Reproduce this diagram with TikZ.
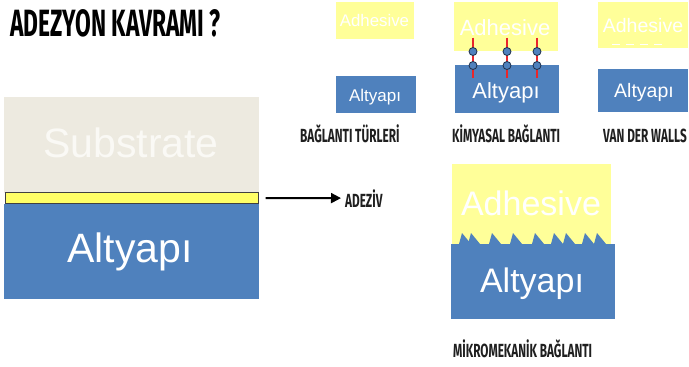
\documentclass[tikz,border=0pt]{standalone}
\usepackage{fontspec}
\setmainfont{Liberation Sans}
\newfontfamily\condfont[FakeStretch=0.62]{Fira Sans}
\newfontfamily\titlefont[FakeStretch=0.6]{Fira Sans}
\usetikzlibrary{arrows.meta}
\definecolor{subst}{HTML}{EDEAE0}
\definecolor{substtxt}{HTML}{FAF9F5}
\definecolor{altblue}{HTML}{4F81BD}
\definecolor{adhyel}{HTML}{FFFF99}
\definecolor{stripyel}{HTML}{FFFF66}
\definecolor{bondred}{HTML}{E8262B}
\definecolor{dotline}{HTML}{1F2F4A}
\tikzset{
  box/.style={draw=none, inner sep=0pt, outer sep=0pt},
  subbox/.style={box, fill=subst},
  bluebox/.style={box, fill=altblue},
  yelbox/.style={box, fill=adhyel},
  wtext/.style={text=white, inner sep=0pt, anchor=base},
  lbl/.style={inner sep=0pt, anchor=base west, font=\condfont\bfseries\fontsize{19}{19}\selectfont, text=black!88},
  bond/.style={draw=bondred, line width=1.2pt},
  atom/.style={circle, fill=altblue, draw=dotline, line width=0.8pt, minimum size=8pt, inner sep=0pt},
  tooth/.style={fill=altblue, draw=none}
}
\begin{document}
\begin{tikzpicture}[x=1pt,y=-1pt]
\useasboundingbox (0,0) rectangle (689,367);
\fill[white] (0,0) rectangle (689,367);

% title
\node[inner sep=0pt, anchor=base west, font=\titlefont\bfseries\fontsize{38}{38}\selectfont] (title) at (10,36) {ADEZYON KAVRAMI ?};

% left stack
\node[subbox, minimum width=255pt, minimum height=96pt] (sub) at (131.5,145) {};
\node[wtext, text=substtxt, font=\fontsize{41}{41}\selectfont] (subtxt) at (131,157) {Substrate};
\node[bluebox, minimum width=255pt, minimum height=95pt] (alt) at (131.5,251) {};
\node[wtext, font=\fontsize{41}{41}\selectfont] (alttxt) at (130,262) {Altyapı};
\node[box, fill=stripyel, draw=black!75, line width=1pt, minimum width=253pt, minimum height=11pt] (strip) at (132,198) {};

% arrow + label
\node[lbl] (adeziv) at (345,207) {ADEZİV};
\draw[line width=2pt, -{Triangle[length=10pt,width=10pt]}] ([xshift=7pt]strip.east) -- ([xshift=-4pt]adeziv.west);

% bond types
\node[yelbox, minimum width=78pt, minimum height=37pt] (ad1) at (375,20.5) {};
\node[wtext, font=\fontsize{16.8}{17}\selectfont] (ad1t) at (374.5,26) {Adhesive};
\node[bluebox, minimum width=80pt, minimum height=37pt] (al1) at (376,94.5) {};
\node[wtext, font=\fontsize{17}{17}\selectfont] (al1t) at (375,101) {Altyapı};
\node[lbl] (l1) at (300,142) {BAĞLANTI TÜRLERİ};

% chemical
\node[yelbox, minimum width=104pt, minimum height=49pt] (ad2) at (506,26.5) {};
\node[wtext, font=\fontsize{22}{22}\selectfont] (ad2t) at (505,35) {Adhesive};
\node[bluebox, minimum width=104pt, minimum height=48pt] (al2) at (507,89) {};
\node[wtext, font=\fontsize{22}{22}\selectfont] (al2t) at (506,98) {Altyapı};
\foreach \x/\n in {473/a,507/b,537/c}{
  \coordinate (bt\n) at (\x,37.5);
  \coordinate (bb\n) at (\x,78);
  \draw[bond] (bt\n) -- (bb\n);
  \node[atom] (u\n) at (\x,51.5) {};
  \node[atom] (d\n) at (\x,65.5) {};
}
\node[lbl] (l2) at (452,142) {KİMYASAL BAĞLANTI};

% van der walls
\node[yelbox, minimum width=90pt, minimum height=46pt] (ad3) at (643,25) {};
\node[wtext, font=\fontsize{19.5}{20}\selectfont] (ad3t) at (643,32) {Adhesive};
\draw[white, line width=1.2pt, dash pattern=on 8pt off 6pt] (612,44.5) -- (666,44.5);
\node[bluebox, minimum width=90pt, minimum height=43pt] (al3) at (643,90.5) {};
\node[wtext, font=\fontsize{19.5}{20}\selectfont] (al3t) at (644,97) {Altyapı};
\node[lbl] (l3) at (603,142) {VAN DER WALLS};

% micromechanical
\node[yelbox, minimum width=159pt, minimum height=81pt] (ad4) at (531.5,204) {};
\node[wtext, font=\fontsize{34}{34}\selectfont] (ad4t) at (531,215) {Adhesive};
\node[bluebox, minimum width=164pt, minimum height=75pt] (al4) at (533,281) {};
\foreach \t in {462,471,492,513,535,554,566,585,597}{
  \fill[tooth] (\t-3,244) -- (\t,233) -- (\t+9,244) -- cycle;
}
\node[wtext, font=\fontsize{34}{34}\selectfont] (al4t) at (532,292) {Altyapı};
\node[lbl] (l4) at (453,357) {MİKROMEKANİK BAĞLANTI};
\end{tikzpicture}
\end{document}
